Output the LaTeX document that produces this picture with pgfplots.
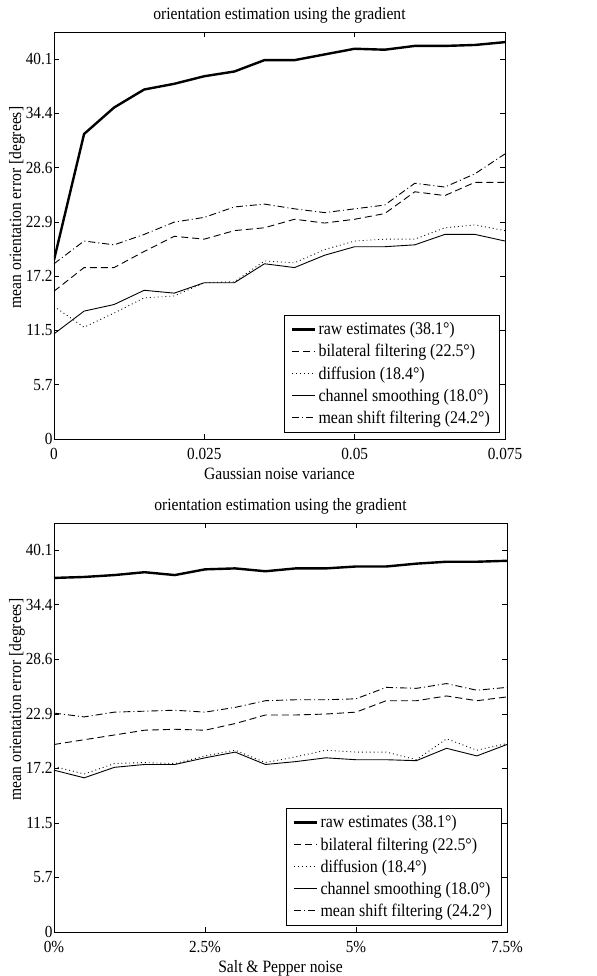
\documentclass[border=0pt]{standalone}
\usepackage{fontspec}
\setmainfont{Liberation Serif}[FakeStretch=0.9]
\usepackage{pgfplots}
\pgfplotsset{compat=1.18}

\pgfplotsset{
  orient/.style={
    scale only axis,
    ymin=0, ymax=42.97,
    ytick={0,5.7296,11.4592,17.1887,22.9183,28.6479,34.3775,40.107},
    yticklabels={0,5.7,11.5,17.2,22.9,28.6,34.4,40.1},
    scaled x ticks=false,
    tick align=inside, xtick pos=both, ytick pos=both,
    major tick length=5bp,
    axis line style={line width=0.9bp},
    every tick/.style={black, line width=0.6bp},
    tick label style={font=\fontsize{17}{19}\selectfont},
    /pgf/number format/assume math mode=true,
    title={orientation estimation using the gradient},
    title style={font=\fontsize{17.4}{19}\selectfont, yshift=-1bp},
    xlabel style={font=\fontsize{17.4}{19}\selectfont, yshift=-1bp},
    ylabel={mean orientation error [degrees]},
    ylabel style={font=\fontsize{17.4}{19}\selectfont, yshift=-6bp, xshift=28bp},
    xticklabel style={yshift=-6bp},
    yticklabel style={xshift=2bp},
    legend cell align=left,
    legend style={at={(1,0)}, anchor=south east, xshift=-6bp, yshift=7bp,
      font=\fontsize{17.8}{20}\selectfont, draw=black, row sep=4.2bp,
      inner xsep=7bp, inner ysep=5bp},
    legend image code/.code={\draw[#1] plot coordinates {(0bp,0bp) (11.5bp,0bp) (23bp,0bp)};},
  },
  raw/.style={black, line width=2.4bp},
  bil/.style={black, line width=0.9bp, dash pattern=on 7bp off 4bp},
  dif/.style={black, line width=0.9bp, dash pattern=on 0.9bp off 3bp},
  chs/.style={black, line width=0.9bp},
  msf/.style={black, line width=0.9bp, dash pattern=on 7bp off 3bp on 1bp off 3bp},
}

\begin{document}
\begin{tikzpicture}
\begin{axis}[orient, width=451bp, height=407bp,
  xmin=0, xmax=0.075, xtick={0,0.025,0.05,0.075},
  xticklabels={0,0.025,0.05,0.075},
  xlabel={Gaussian noise variance}]
  \addplot[raw] coordinates {(0,18.9) (0.005,32.2) (0.01,35.0) (0.015,36.9) (0.02,37.5) (0.025,38.3) (0.03,38.8) (0.035,40.0) (0.04,40.0) (0.045,40.6) (0.05,41.2) (0.055,41.1) (0.06,41.5) (0.065,41.5) (0.07,41.6) (0.075,41.9)};
  \addlegendentry{raw estimates (38.1°)}
  \addplot[bil] coordinates {(0,15.6) (0.005,18.1) (0.01,18.1) (0.015,19.8) (0.02,21.4) (0.025,21.1) (0.03,22.0) (0.035,22.3) (0.04,23.2) (0.045,22.8) (0.05,23.2) (0.055,23.8) (0.06,26.1) (0.065,25.7) (0.07,27.1) (0.075,27.1)};
  \addlegendentry{bilateral filtering (22.5°)}
  \addplot[dif] coordinates {(0,14.0) (0.005,11.8) (0.01,13.3) (0.015,14.9) (0.02,15.1) (0.025,16.5) (0.03,16.6) (0.035,18.8) (0.04,18.6) (0.045,20.0) (0.05,20.9) (0.055,21.1) (0.06,21.1) (0.065,22.3) (0.07,22.6) (0.075,22.0)};
  \addlegendentry{diffusion (18.4°)}
  \addplot[chs] coordinates {(0,11.1) (0.005,13.5) (0.01,14.2) (0.015,15.7) (0.02,15.4) (0.025,16.5) (0.03,16.5) (0.035,18.5) (0.04,18.1) (0.045,19.4) (0.05,20.3) (0.055,20.3) (0.06,20.5) (0.065,21.6) (0.07,21.6) (0.075,20.9)};
  \addlegendentry{channel smoothing (18.0°)}
  \addplot[msf] coordinates {(0,18.5) (0.005,20.9) (0.01,20.5) (0.015,21.6) (0.02,22.9) (0.025,23.4) (0.03,24.5) (0.035,24.8) (0.04,24.3) (0.045,23.9) (0.05,24.3) (0.055,24.7) (0.06,27.0) (0.065,26.6) (0.07,28.0) (0.075,30.1)};
  \addlegendentry{mean shift filtering (24.2°)}
\end{axis}
\begin{axis}[orient, at={(0,-493bp)}, width=453bp, height=409bp,
  xmin=0, xmax=7.5, xtick={0,2.5,5,7.5},
  xticklabels={0\%,2.5\%,5\%,7.5\%},
  xlabel={Salt \& Pepper noise}]
  \addplot[raw] coordinates {(0,37.2) (0.5,37.3) (1,37.5) (1.5,37.8) (2,37.5) (2.5,38.1) (3,38.2) (3.5,37.9) (4,38.2) (4.5,38.2) (5,38.4) (5.5,38.4) (6,38.7) (6.5,38.9) (7,38.9) (7.5,39.0)};
  \addlegendentry{raw estimates (38.1°)}
  \addplot[bil] coordinates {(0,19.7) (0.5,20.2) (1,20.7) (1.5,21.2) (2,21.3) (2.5,21.2) (3,21.9) (3.5,22.8) (4,22.8) (4.5,22.9) (5,23.1) (5.5,24.3) (6,24.3) (6.5,24.8) (7,24.3) (7.5,24.7)};
  \addlegendentry{bilateral filtering (22.5°)}
  \addplot[dif] coordinates {(0,17.4) (0.5,16.6) (1,17.7) (1.5,17.8) (2,17.7) (2.5,18.5) (3,19.1) (3.5,17.8) (4,18.4) (4.5,19.1) (5,18.9) (5.5,18.9) (6,18.1) (6.5,20.3) (7,19.1) (7.5,19.8)};
  \addlegendentry{diffusion (18.4°)}
  \addplot[chs] coordinates {(0,17.0) (0.5,16.2) (1,17.3) (1.5,17.6) (2,17.6) (2.5,18.3) (3,18.9) (3.5,17.6) (4,17.9) (4.5,18.3) (5,18.1) (5.5,18.1) (6,18.0) (6.5,19.3) (7,18.5) (7.5,19.7)};
  \addlegendentry{channel smoothing (18.0°)}
  \addplot[msf] coordinates {(0,23.0) (0.5,22.6) (1,23.1) (1.5,23.2) (2,23.3) (2.5,23.1) (3,23.6) (3.5,24.3) (4,24.4) (4.5,24.4) (5,24.5) (5.5,25.7) (6,25.6) (6.5,26.1) (7,25.4) (7.5,25.7)};
  \addlegendentry{mean shift filtering (24.2°)}
\end{axis}
\pgfresetboundingbox
\path (-54bp,-537bp) rectangle (543bp,439bp);
\end{tikzpicture}
\end{document}
